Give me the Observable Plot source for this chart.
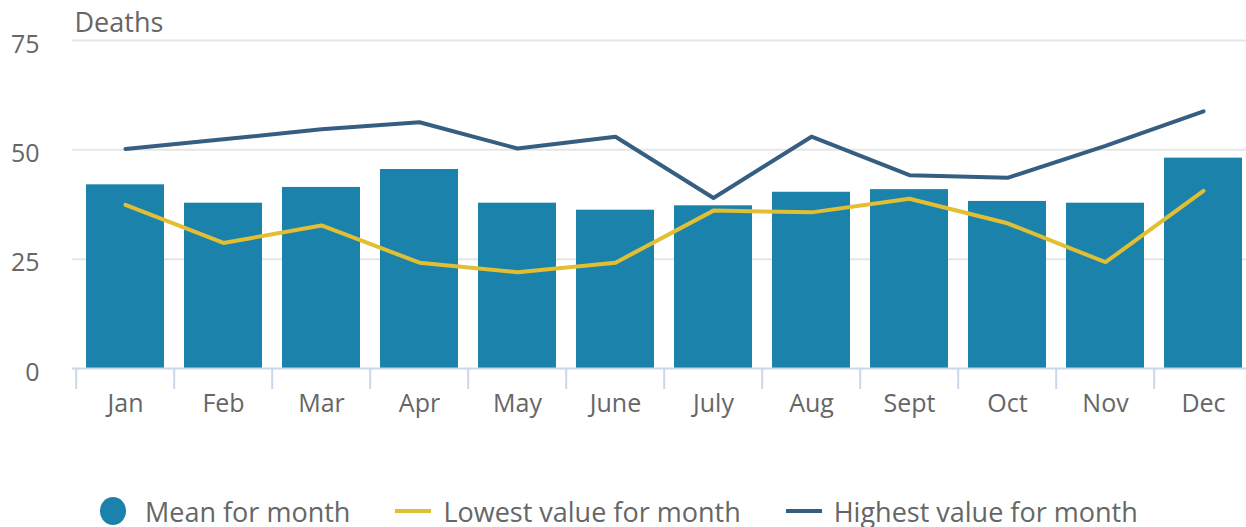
<!DOCTYPE html>
<html>
<head>
<meta charset="utf-8">
<script src="https://cdn.jsdelivr.net/npm/d3@7"></script>
<script src="https://cdn.jsdelivr.net/npm/@observablehq/plot@0.6"></script>
<style>
  html, body { margin: 0; padding: 0; background: #fff; overflow: hidden; width: 1246px; height: 527px; }
  body { font-family: "Open Sans", sans-serif; position: relative; }
  #chart svg { max-width: none !important; display: block; }
  #legend { position: absolute; left: 100px; top: 493px; display: flex; align-items: center; gap: 45px; white-space: nowrap; }
  .item { display: flex; align-items: center; height: 36px; font-size: 27px; color: #666; }
  .sw-dot { width: 26px; height: 28px; border-radius: 50%; margin-right: 19px; }
  .sw-line { width: 36px; height: 4px; margin-right: 12px; }
</style>
</head>
<body>
<div id="chart"></div>
<div id="legend"></div>
<script>
const months = ["Jan","Feb","Mar","Apr","May","June","July","Aug","Sept","Oct","Nov","Dec"];
const meanValues = [42.0, 37.8, 41.4, 45.5, 37.8, 36.2, 37.2, 40.3, 40.9, 38.2, 37.8, 48.1];
const lowestValues = [37.4, 28.7, 32.7, 24.2, 22.0, 24.2, 36.1, 35.7, 38.8, 33.2, 24.3, 40.6];
const highestValues = [50.2, 52.4, 54.7, 56.3, 50.3, 53.0, 39.0, 53.0, 44.2, 43.6, 50.9, 58.8];
const yTicks = [0, 25, 50, 75];
const yLabel = "Deaths";
const seriesNames = ["Mean for month", "Lowest value for month", "Highest value for month"];
const colors = ["#1b83ab", "#e2be32", "#365e80"];

const table = months.map((m, i) => ({month: m, mean: meanValues[i], lowest: lowestValues[i], highest: highestValues[i]}));

const W = 1260, H = 440, ML = 72, MR = 5;
const bw = (W - ML - MR) / months.length;

const chart = Plot.plot({
  width: W, height: H,
  marginLeft: ML, marginRight: MR, marginTop: 40, marginBottom: 72,
  style: {fontFamily: "'Open Sans', sans-serif", fontSize: "25px", color: "#666", background: "transparent", maxWidth: "none"},
  x: {type: "band", domain: months, padding: 0, label: null},
  y: {domain: [0, 75], label: null},
  marks: [
    Plot.gridY(yTicks.filter(t => t > 0), {stroke: "#e6e6e6", strokeOpacity: 1, strokeWidth: 2}),
    Plot.axisY(yTicks, {tickSize: 0, tickPadding: 33, fontSize: 25, fill: "#666", dy: 4, label: null}),
    Plot.barY(table, {x: "month", y: "mean", fill: colors[0], insetLeft: 10, insetRight: 10}),
    Plot.ruleY([0], {stroke: "#ccd6eb", strokeWidth: 2}),
    Plot.axisX({tickSize: 21, stroke: "#ccd6eb", strokeWidth: 2, strokeOpacity: 1, dx: -bw / 2, tickFormat: () => "", label: null}),
    Plot.axisX({tickSize: 0, tickPadding: 26, fontSize: 25, fill: "#666", label: null}),
    Plot.line(table, {x: "month", y: "lowest", stroke: colors[1], strokeWidth: 4}),
    Plot.line(table, {x: "month", y: "highest", stroke: colors[2], strokeWidth: 4}),
    Plot.text([yLabel], {text: d => d, frameAnchor: "top-left", lineAnchor: "middle", dx: 2, dy: -17, textAnchor: "start", fontSize: 27, fill: "#666"})
  ]
});
chart.style.maxWidth = "none";
document.getElementById("chart").appendChild(chart);

const legend = document.getElementById("legend");
seriesNames.forEach((name, i) => {
  const item = document.createElement("div");
  item.className = "item";
  const sw = document.createElement("span");
  sw.className = i === 0 ? "sw-dot" : "sw-line";
  sw.style.background = colors[i];
  const label = document.createElement("span");
  label.textContent = name;
  item.appendChild(sw);
  item.appendChild(label);
  legend.appendChild(item);
});
</script>
</body>
</html>
